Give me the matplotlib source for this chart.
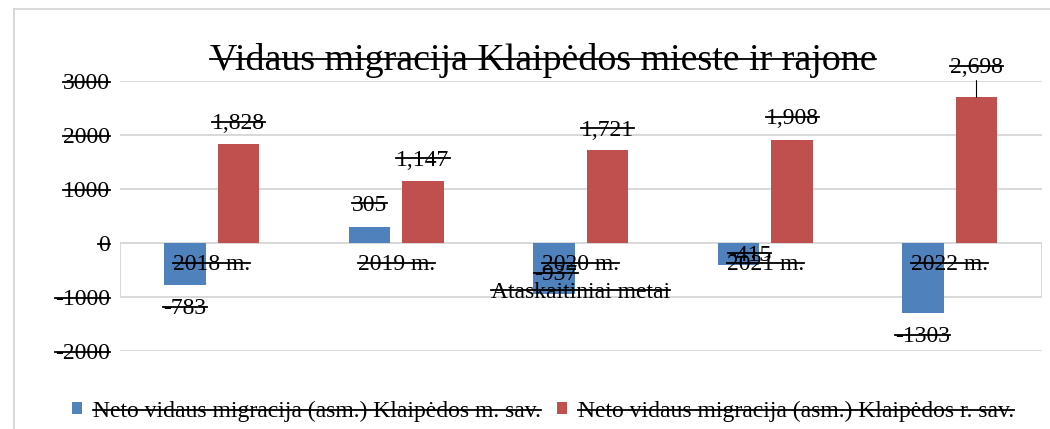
import matplotlib
matplotlib.use("Agg")
import matplotlib.pyplot as plt
import numpy as np
from matplotlib.lines import Line2D
from matplotlib.patches import Rectangle
from matplotlib.text import Text

years = ["2018 m.", "2019 m.", "2020 m.", "2021 m.", "2022 m."]
miestas = [-783, 305, -937, -415, -1303]
rajonas = [1828, 1147, 1721, 1908, 2698]
series_names = ["Neto vidaus migracija (asm.) Klaipėdos m. sav.",
                "Neto vidaus migracija (asm.) Klaipėdos r. sav."]
title = "Vidaus migracija Klaipėdos mieste ir rajone"
xlabel = "Ataskaitiniai metai"
yticks = [-2000, -1000, 0, 1000, 2000, 3000]

# label offsets from bar end, in pixels (LibreOffice placed them a bit oddly)
blue_off = [(0, -23), (0, 21.5), (2, 18.6), (11, 10.4), (0, -23.6)]
red_off = [(0, 21), (0, 21), (0, 20), (0, 21), (0, 30)]

BLUE = "#4f81bd"
RED = "#c0504d"
GRID = "#d9d9d9"
W, H = 1050, 429
PX = 0.72  # px -> pt at dpi 100

plt.rcParams['font.family'] = ['Liberation Serif', 'DejaVu Serif']
fs = 17

fig = plt.figure(figsize=(W / 100, H / 100), dpi=100)
ax = fig.add_axes([119.5 / W, (H - 351) / H, 922.5 / W, 270 / H])
ax.set_xlim(-0.5, 4.5)
ax.set_ylim(-2000, 3000)
for s in ax.spines.values():
    s.set_visible(False)
ax.set_xticks([])
ax.set_yticks(yticks)
ax.set_yticklabels([str(v) for v in yticks], fontsize=fs)
ax.tick_params(axis='y', length=0, pad=9.5 * PX)
for v in yticks:
    ax.axhline(v, color=GRID, lw=2 * PX, zorder=0)
# box around category labels
ax.add_patch(Rectangle((-0.5, -1000), 5, 1000, fill=False, ec=GRID, lw=2 * PX, zorder=0))

x = np.arange(len(years))
bw = 0.2276
off = 0.145
b1 = ax.bar(x - off, miestas, bw, color=BLUE, zorder=2, label=series_names[0])
b2 = ax.bar(x + off, rajonas, bw, color=RED, zorder=2, label=series_names[1])

struck = []
for i, v in enumerate(miestas):
    dx, dy = blue_off[i]
    t = ax.annotate(str(v), (x[i] - off, v), xytext=(dx * PX, dy * PX), textcoords='offset points',
                    ha='center', va='center', fontsize=fs, zorder=5, annotation_clip=False)
    struck.append(t)
for i, v in enumerate(rajonas):
    dx, dy = red_off[i]
    kw = {}
    if dy > 25:
        kw['arrowprops'] = dict(arrowstyle='-', color='black', lw=0.8, shrinkA=0, shrinkB=0)
    t = ax.annotate(f"{v:,}", (x[i] + off, v), xytext=(dx * PX, dy * PX), textcoords='offset points',
                    ha='center', va='center', fontsize=fs, zorder=5, annotation_clip=False, **kw)
    struck.append(t)

for i, lab in enumerate(years):
    t = ax.annotate(lab, (x[i], 0), xytext=(0, -22 * PX), textcoords='offset points',
                    ha='center', va='center', fontsize=fs, zorder=6)
    struck.append(t)

t = ax.annotate(xlabel, (2, 0), xytext=(0, -49 * PX), textcoords='offset points',
                ha='center', va='center', fontsize=fs, zorder=6)
struck.append(t)

t = fig.text(543 / W, 1 - 61 / H, title, ha='center', va='center', fontsize=27.3)
struck.append(t)

leg = fig.legend(handles=[b1, b2], loc='center', bbox_to_anchor=(543 / W, 1 - 411 / H), ncol=2,
                 frameon=False, fontsize=fs, handlelength=0.42, handleheight=0.42,
                 handletextpad=0.47, columnspacing=0.68, borderpad=0, borderaxespad=0)
struck += leg.get_texts()

# chart border (only left and top are inside the picture)
fig.add_artist(Line2D([13.5 / W, 13.5 / W], [0, 1 - 9 / H], color=GRID, lw=2 * PX))
fig.add_artist(Line2D([13.5 / W, 1], [1 - 9 / H, 1 - 9 / H], color=GRID, lw=2 * PX))

# strike-through on every text, as in the reference
fig.canvas.draw()
r = fig.canvas.get_renderer()
labels = struck + ax.get_yticklabels()
for t in labels:
    if not t.get_text():
        continue
    bb = Text.get_window_extent(t, r)
    fpx = t.get_fontsize() / 72 * 100
    _, _, d = r.get_text_width_height_descent("lp", t.get_fontproperties(), ismath=False)
    yb = bb.y0 + d + 0.3 * fpx
    fig.add_artist(Line2D([bb.x0 / W, bb.x1 / W], [yb / H, yb / H], color='black',
                          lw=1.3, zorder=10))

fig.savefig("out.png", dpi=100)
